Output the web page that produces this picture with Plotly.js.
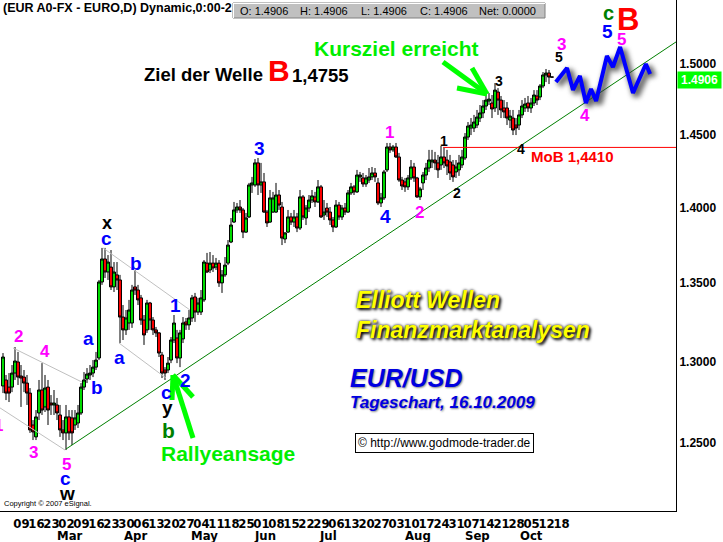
<!DOCTYPE html>
<html><head><meta charset="utf-8">
<script src="https://cdn.plot.ly/plotly-3.0.1.min.js"></script>
<style>html,body{margin:0;padding:0;background:#fff;overflow:hidden}#chart{width:723px;height:542px}</style>
</head><body><div id="chart"></div>
<script>
// ---------- data ----------
const opens = [
1.2848,1.2885,1.2841,1.2841,1.2928,1.2997,1.2910,1.2903,1.2866,1.2804,
1.2609,1.2537,1.2682,1.2823,1.2719,1.2841,1.2743,1.2731,1.2731,1.2670,
1.2579,1.2561,1.2658,1.2652,1.2609,1.2621,1.2682,1.2841,1.2891,1.2916,
1.2928,1.2965,1.3022,1.3507,1.3657,1.3572,1.3604,1.3475,1.3553,1.3520,
1.3281,1.3199,1.3243,1.3243,1.3475,1.3455,1.3404,1.3262,
1.3199,1.3371,1.3262,1.3199,1.3180,1.3041,1.2947,1.2947,1.3009,1.3135,
1.3148,1.3022,1.3142,1.3250,1.3231,1.3275,1.3410,1.3313,1.3313,1.3391,
1.3630,1.3585,1.3630,1.3604,1.3630,1.3501,1.3553,1.3630,1.3769,1.3902,
1.3983,1.4003,1.3983,1.3835,1.3936,1.4152,1.4152,1.4303,1.4152,1.4173,
1.3969,1.3902,1.3969,1.3969,1.4084,1.4003,
1.3789,1.3835,1.3936,1.3902,1.3936,1.3862,1.4071,1.3929,1.3996,1.4050,
1.4071,1.4037,1.4139,1.3949,1.3996,1.3969,1.3916,1.3869,1.4016,1.3936,
1.3996,1.3969,1.4098,1.4139,1.4105,1.4207,1.4200,1.4159,1.4186,1.4207,
1.4234,1.4166,1.4030,1.4064,1.4255,1.4413,1.4393,1.4413,1.4344,1.4186,
1.4173,1.4139,1.4200,1.4275,1.4200,1.4071,
1.4166,1.4220,1.4268,1.4310,1.4323,1.4303,1.4289,1.4344,1.4323,1.4310,
1.4289,1.4241,1.4255,1.4289,1.4337,1.4482,1.4545,1.4545,1.4566,1.4615,
1.4651,1.4700,1.4735,1.4721,1.4686,1.4799,1.4742,1.4686,1.4686,1.4601,
1.4615,1.4566,1.4566,1.4637,1.4686,1.4721,1.4686,1.4721,1.4771,1.4764,
1.4842,1.4921,1.4935,1.4906];
const highs = [
1.3053,1.2916,1.2928,1.2978,1.3091,1.3060,1.2978,1.2947,1.2916,1.2835,
1.2639,1.2700,1.2885,1.2990,1.2916,1.2885,1.2792,1.2823,1.2774,1.2731,
1.2639,1.2731,1.2700,1.2700,1.2700,1.2731,1.2866,1.2934,1.2959,1.2978,
1.3009,1.3060,1.3520,1.3730,1.3730,1.3683,1.3716,1.3637,1.3637,1.3553,
1.3358,1.3326,1.3391,1.3488,1.3585,1.3488,1.3423,1.3294,
1.3391,1.3378,1.3281,1.3218,1.3186,1.3060,1.2965,1.3028,1.3154,1.3294,
1.3199,1.3199,1.3281,1.3275,1.3326,1.3423,1.3436,1.3404,1.3455,1.3650,
1.3697,1.3703,1.3683,1.3664,1.3650,1.3585,1.3670,1.3782,1.3929,1.4037,
1.4030,1.4050,1.3996,1.3963,1.4166,1.4207,1.4330,1.4337,1.4303,1.4234,
1.3983,1.4118,1.4105,1.4166,1.4118,1.4037,
1.3835,1.3983,1.3963,1.3983,1.3963,1.4118,1.4084,1.4016,1.4084,1.4118,
1.4105,1.4186,1.4152,1.4050,1.4030,1.4003,1.3936,1.4050,1.4037,1.4016,
1.4030,1.4118,1.4166,1.4152,1.4255,1.4241,1.4234,1.4220,1.4268,1.4275,
1.4268,1.4200,1.4098,1.4255,1.4441,1.4441,1.4427,1.4441,1.4372,1.4207,
1.4200,1.4220,1.4323,1.4303,1.4207,1.4139,
1.4241,1.4303,1.4393,1.4393,1.4379,1.4358,1.4420,1.4406,1.4393,1.4358,
1.4323,1.4323,1.4358,1.4393,1.4510,1.4587,1.4615,1.4637,1.4672,1.4707,
1.4742,1.4778,1.4792,1.4778,1.4863,1.4827,1.4771,1.4742,1.4728,1.4672,
1.4672,1.4615,1.4672,1.4742,1.4757,1.4771,1.4757,1.4813,1.4813,1.4856,
1.4942,1.4964,1.4957,1.4906];
const lows = [
1.2804,1.2761,1.2749,1.2810,1.2885,1.2854,1.2719,1.2810,1.2731,1.2561,
1.2518,1.2518,1.2639,1.2670,1.2688,1.2609,1.2670,1.2670,1.2639,1.2537,
1.2518,1.2458,1.2518,1.2488,1.2579,1.2591,1.2670,1.2823,1.2866,1.2885,
1.2903,1.2947,1.3009,1.3488,1.3533,1.3520,1.3455,1.3442,1.3455,1.3116,
1.3135,1.3167,1.3199,1.3212,1.3423,1.3358,1.3231,1.3104,
1.3180,1.3199,1.3167,1.3154,1.3028,1.2897,1.2885,1.2928,1.2990,1.3116,
1.2990,1.2965,1.3116,1.3199,1.3199,1.3250,1.3250,1.3294,1.3294,1.3378,
1.3565,1.3565,1.3572,1.3585,1.3475,1.3436,1.3540,1.3617,1.3762,1.3896,
1.3963,1.3963,1.3795,1.3829,1.3929,1.4098,1.4139,1.4084,1.4098,1.3963,
1.3869,1.3896,1.3963,1.3963,1.3983,1.3749,
1.3762,1.3829,1.3882,1.3869,1.3835,1.3849,1.3916,1.3882,1.3969,1.4030,
1.4003,1.4030,1.3929,1.3916,1.3936,1.3882,1.3835,1.3862,1.3916,1.3916,
1.3949,1.3963,1.4084,1.4084,1.4098,1.4173,1.4139,1.4139,1.4166,1.4186,
1.4173,1.4016,1.4003,1.4050,1.4241,1.4372,1.4379,1.4337,1.4173,1.4118,
1.4105,1.4118,1.4186,1.4173,1.4064,1.4050,
1.4118,1.4186,1.4241,1.4268,1.4255,1.4200,1.4255,1.4268,1.4220,1.4186,
1.4173,1.4200,1.4214,1.4268,1.4323,1.4462,1.4496,1.4517,1.4545,1.4587,
1.4615,1.4672,1.4707,1.4615,1.4658,1.4637,1.4615,1.4615,1.4566,1.4545,
1.4496,1.4496,1.4531,1.4615,1.4658,1.4658,1.4651,1.4700,1.4707,1.4742,
1.4827,1.4870,1.4856,1.4906];
const closes = [
1.3028,1.2804,1.2804,1.2928,1.3003,1.2903,1.2897,1.2866,1.2804,1.2579,
1.2567,1.2658,1.2823,1.2700,1.2835,1.2700,1.2731,1.2743,1.2682,1.2579,
1.2561,1.2658,1.2561,1.2561,1.2652,1.2682,1.2841,1.2885,1.2922,1.2928,
1.2965,1.3009,1.3507,1.3657,1.3572,1.3637,1.3475,1.3572,1.3520,1.3281,
1.3199,1.3275,1.3326,1.3455,1.3455,1.3391,1.3262,1.3167,
1.3371,1.3262,1.3199,1.3180,1.3053,1.2928,1.2928,1.2990,1.3135,1.3243,
1.3022,1.3180,1.3243,1.3231,1.3275,1.3404,1.3313,1.3371,1.3404,1.3637,
1.3572,1.3630,1.3598,1.3630,1.3501,1.3553,1.3617,1.3749,1.3882,1.3983,
1.4003,1.3983,1.3835,1.3929,1.4152,1.4166,1.4303,1.4152,1.4173,1.3969,
1.3896,1.4064,1.4064,1.4084,1.4016,1.3795,
1.3829,1.3936,1.3902,1.3936,1.3862,1.4071,1.3936,1.3996,1.4050,1.4078,
1.4037,1.4139,1.3936,1.3969,1.3969,1.3916,1.3869,1.4016,1.3936,1.3996,
1.3969,1.4098,1.4139,1.4105,1.4220,1.4220,1.4159,1.4200,1.4207,1.4234,
1.4207,1.4030,1.4064,1.4241,1.4413,1.4393,1.4413,1.4344,1.4186,1.4145,
1.4139,1.4200,1.4275,1.4200,1.4071,1.4125,
1.4220,1.4268,1.4323,1.4323,1.4303,1.4255,1.4344,1.4303,1.4282,1.4234,
1.4207,1.4275,1.4303,1.4344,1.4482,1.4559,1.4566,1.4587,1.4622,1.4651,
1.4700,1.4742,1.4749,1.4679,1.4813,1.4742,1.4672,1.4658,1.4615,1.4629,
1.4531,1.4545,1.4637,1.4700,1.4714,1.4686,1.4721,1.4778,1.4742,1.4842,
1.4921,1.4935,1.4906,1.4906];

const weekLabels = ['09','16','23','02','09','16','23','30','06','13','20','27','04','11','18','25',
  '01','08','15','22','29','06','13','20','27','03','10','17','24','31','07','14','21','28','05','12','18'];
const monthLabels = ['Mar','Apr','May','Jun','Jul','Aug','Sep','Oct'];
const monthIdx = [22.3, 44.3, 67, 87.3, 108.3, 138.3, 158, 176.3];
const priceTicks = [1.25, 1.30, 1.35, 1.40, 1.45, 1.50];
const lastPrice = 1.4906;
const mobLevel = 1.4410;
const mobStartIdx = 146.7;
const trendX = [21, 224.33];
const trendY = [1.2464, 1.5160];
const chan1X = [-1, 20.67], chan1Y = [1.2713, 1.2458];
const chan2X = [3.33, 26.33], chan2Y = [1.3085, 1.2872];
const chan3X = [33.33, 62.33], chan3Y = [1.3730, 1.3326];
const chan4X = [38.67, 54.33], chan4Y = [1.3116, 1.2897];
const projX = [184.3, 188, 190, 192.3, 194.3, 196, 197.7, 201.3, 203.3, 205.7, 210, 214.3, 215.7];
const projY = [1.4871, 1.4971, 1.4814, 1.4914, 1.4721, 1.4821, 1.4736, 1.5058, 1.4978, 1.5123, 1.4792, 1.5000, 1.4928];

// ---------- drawing ----------
const xs = closes.map((_, i) => i);
const W = 676, H = 511;
const FONT = 'Liberation Sans, Arial, sans-serif';
const px = x => x / W, py = y => 1 - y / H;
function note(text, x, y, color, size, extra) {
  return Object.assign({text: text, x: px(x), y: py(y), xref: 'paper', yref: 'paper', showarrow: false,
    xanchor: 'center', yanchor: 'middle', borderpad: 0,
    font: {family: FONT, size: size, color: color, weight: 'bold'}}, extra || {});
}
function lineTrace(x, y, color, width, dash) {
  return {type: 'scatter', mode: 'lines', x: x, y: y, line: {color: color, width: width, dash: dash || 'solid'},
    hoverinfo: 'skip', showlegend: false, cliponaxis: false};
}

const traces = [
  {type: 'candlestick', x: xs, open: opens, high: highs, low: lows, close: closes,
   increasing: {line: {color: '#000', width: 1}, fillcolor: '#00e000'},
   decreasing: {line: {color: '#000', width: 1}, fillcolor: '#ff0000'},
   whiskerwidth: 0, hoverinfo: 'skip', showlegend: false},
  lineTrace(chan1X, chan1Y, '#c0c0c0', 1),
  lineTrace(chan2X, chan2Y, '#c0c0c0', 1),
  lineTrace(chan3X, chan3Y, '#c0c0c0', 1),
  lineTrace(chan4X, chan4Y, '#c0c0c0', 1),
  lineTrace(trendX, trendY, '#008000', 1),
  lineTrace([mobStartIdx, 224.33], [mobLevel, mobLevel], '#ff0000', 1),
  lineTrace(projX, projY, 'rgba(60,60,60,0.75)', 7),
  lineTrace(projX, projY, '#0000ff', 4)
];

const pink = '#ff00ff', blue = '#0000ff', black = '#000', dgreen = '#008000';
const ann = [];
// wave labels
[['1',-2,425],['2',18,336],['3',33,452],['4',45,351],['5',66,464],['1',390,133],['2',420,212],
 ['3',561,44],['4',585,115],['5',621,39]].forEach(d => ann.push(note(d[0], d[1], d[2], pink, 17)));
[['c',65,478],['a',88,338],['b',97,387],['c',106,238],['a',119,357],['b',136,263],['1',175,305],
 ['c',166,392],['2',185,380],['3',259,149],['4',385,217],['5',607,31]].forEach(d => ann.push(note(d[0], d[1], d[2], blue, 19)));
[['w',67,493,19],['x',107,223,18],['y',167,407,19],['1',444,141,14],['2',457,193,14],['3',499,81,14],
 ['4',521,149,14],['5',559,57,14]].forEach(d => ann.push(note(d[0], d[1], d[2], black, d[3])));
ann.push(note('b', 168, 430, dgreen, 21));
ann.push(note('c', 608, 13, dgreen, 20));
ann.push(note('B', 628, 19, '#ff0000', 31));
// texts
ann.push(note('(EUR A0-FX - EURO,D) Dynamic,0:00-2', 2, 8, black, 12.5, {xanchor: 'left'}));
[['O: 1.4906',263.5],['H: 1.4906',324],['L: 1.4906',383.5],['C: 1.4906',443.5],['Net: 0.0000',507.5]]
  .forEach(d => ann.push(note(d[0], d[1], 11, black, 11, {font: {family: FONT, size: 11, color: black}})));
ann.push(note('Kursziel erreicht', 396, 48, '#00ee00', 21));
ann.push(note('Ziel der Welle', 143, 74, black, 18.5, {xanchor: 'left'}));
ann.push(note('B', 279, 70, '#ff0000', 30));
ann.push(note('1,4755', 291, 75, black, 18.5, {xanchor: 'left'}));
ann.push(note('MoB 1,4410', 572, 157, '#ff0000', 15));
const glow = '2px 2px 3px #000, 0px 0px 3px #000';
ann.push(note('<i>Elliott Wellen</i>', 355, 300, '#ffff00', 23, {xanchor: 'left', font: {family: FONT, size: 23, color: '#ffff00', weight: 'bold', shadow: glow}}));
ann.push(note('<i>Finanzmarktanalysen</i>', 355, 330, '#ffff00', 23, {xanchor: 'left', font: {family: FONT, size: 23, color: '#ffff00', weight: 'bold', shadow: glow}}));
ann.push(note('<i>EUR/USD</i>', 349, 378, '#0000e0', 25, {xanchor: 'left', font: {family: FONT, size: 25, color: '#0000e0', weight: 'bold', shadow: '1px 1px 2px #888'}}));
ann.push(note('<i>Tageschart, 16.10.2009</i>', 349, 402, '#0000e0', 17, {xanchor: 'left', font: {family: FONT, size: 17, color: '#0000e0', weight: 'bold', shadow: '1px 1px 2px #888'}}));
ann.push(note('© http://www.godmode-trader.de', 444, 443, black, 12, {font: {family: FONT, size: 12, color: black},
  bgcolor: '#fff', bordercolor: '#000', borderwidth: 1, borderpad: 2}));
ann.push(note('Rallyeansage', 228, 453, '#00ee00', 21));
ann.push(note('Copyright © 2007 eSignal.', 3, 503, black, 7.5, {xanchor: 'left', font: {family: FONT, size: 7.5, color: black}}));
ann.push(note(lastPrice.toFixed(4), 677, 79.5, '#fff', 12, {xanchor: 'left', bgcolor: '#00ff00', borderpad: 1, width: 41}));
// month labels
monthLabels.forEach((m, i) => ann.push({text: m, x: monthIdx[i], xref: 'x', y: py(535), yref: 'paper', showarrow: false,
  xanchor: 'center', yanchor: 'middle', font: {family: 'Liberation Sans Narrow, DejaVu Sans Condensed, Liberation Sans, sans-serif', size: 13, color: black, weight: 'bold'}}));

function seg(x0, y0, x1, y1, color, width) {
  return {type: 'line', xref: 'paper', yref: 'paper', x0: px(x0), y0: py(y0), x1: px(x1), y1: py(y1),
    line: {color: color, width: width}, layer: 'above'};
}
const G = '#00ff00';
const shapes = [
  {type: 'rect', xref: 'paper', yref: 'paper', x0: px(233), x1: px(545), y0: py(3), y1: py(18),
   fillcolor: '#c0c0c0', line: {color: '#808080', width: 1}, layer: 'above'},
  seg(233, 3.5, 545, 3.5, '#fff', 1), seg(233.5, 3, 233.5, 18, '#fff', 1),
  seg(443, 62, 487, 94, G, 5), seg(472, 68, 487, 94, G, 5), seg(457, 88, 487, 94, G, 5),
  seg(193, 438, 173, 375, G, 5), seg(172, 400, 173, 375, G, 5), seg(193, 397, 173, 375, G, 5)
];

const layout = {
  width: 723, height: 542, margin: {l: 0, r: 47, t: 0, b: 31, pad: 0},
  paper_bgcolor: '#fff', plot_bgcolor: '#fff', showlegend: false, dragmode: false,
  boxgap: 0.02, boxgroupgap: 0,
  xaxis: {range: [-1, 224.33], tickmode: 'array', tickvals: weekLabels.map((_, i) => 6.17 + 5 * i), ticktext: weekLabels,
    tickangle: 0, ticks: '', showgrid: false, zeroline: false, showline: true, linecolor: '#000', linewidth: 1,
    tickfont: {family: 'Liberation Sans Narrow, DejaVu Sans Condensed, Liberation Sans, sans-serif', size: 13, color: '#000', weight: 'bold'},
    rangeslider: {visible: false}, fixedrange: true},
  yaxis: {type: 'log', range: [0.082715, 0.189460], side: 'right', tickmode: 'array', tickvals: priceTicks,
    ticktext: priceTicks.map(v => v.toFixed(4)), ticks: '', showgrid: false, zeroline: false, showline: true,
    linecolor: '#000', linewidth: 1, tickfont: {family: FONT, size: 12, color: '#000', weight: 'bold'}, fixedrange: true},
  annotations: ann, shapes: shapes
};

Plotly.newPlot('chart', traces, layout, {displayModeBar: false, staticPlot: true}).then(gd => {
  const sc = gd.querySelectorAll('.scatterlayer .trace');
  const sh = sc[6];
  if (sh) { const p = sh.querySelector('path.js-line'); if (p) { p.style.filter = 'blur(2.5px)'; p.setAttribute('transform', 'translate(3,3)'); } }
});
</script></body></html>
